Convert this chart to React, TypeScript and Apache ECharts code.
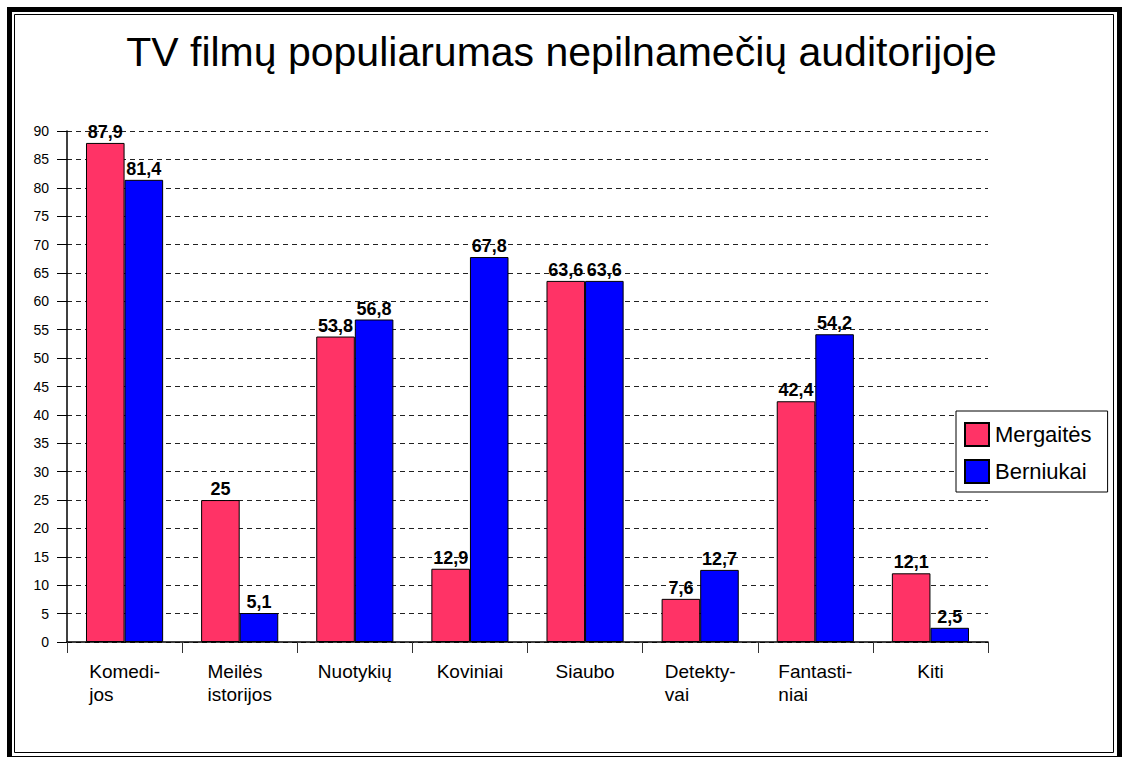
import React, { useEffect, useRef } from "react";
import * as echarts from "echarts";

const categories = [
  "Komedi-\njos",
  "Meilės\nistorijos",
  "Nuotykių",
  "Koviniai",
  "Siaubo",
  "Detekty-\nvai",
  "Fantasti-\nniai",
  "Kiti",
];
const girls = [87.9, 25, 53.8, 12.9, 63.6, 7.6, 42.4, 12.1];
const boys = [81.4, 5.1, 56.8, 67.8, 63.6, 12.7, 54.2, 2.5];
const seriesNames = ["Mergaitės", "Berniukai"];
const titleText = "TV filmų populiarumas nepilnamečių auditorijoje";

const FONT = '"Liberation Sans", Arial, sans-serif';

export default function App() {
  const ref = useRef<HTMLDivElement>(null);
  useEffect(() => {
    if (!ref.current) return;
    const chart = echarts.init(ref.current, null, { renderer: "svg" });
    const fmt = (p: any) => String(p.value).replace(".", ",");
    const barLabel = {
      show: true,
      position: "top",
      distance: 2,
      fontFamily: FONT,
      fontWeight: "bold",
      fontSize: 18,
      color: "#000",
      formatter: fmt,
    };
    chart.setOption({
      animation: false,
      backgroundColor: "#fff",
      title: {
        text: titleText,
        left: "center",
        top: 26,
        textStyle: { fontFamily: FONT, fontSize: 41, fontWeight: "normal", color: "#000" },
      },
      legend: {
        orient: "vertical",
        left: 956,
        top: 411,
        padding: [11, 16, 8, 8],
        itemWidth: 24,
        itemHeight: 23,
        itemGap: 12,
        icon: "rect",
        borderColor: "#000",
        borderWidth: 1,
        backgroundColor: "#fff",
        textStyle: { fontFamily: FONT, fontSize: 22, color: "#000", padding: [0, 0, 0, 1] },
        data: seriesNames,
      },
      grid: { left: 67, right: 135, top: 131, bottom: 115, containLabel: false },
      xAxis: {
        type: "category",
        data: categories,
        axisLine: { lineStyle: { color: "#000", width: 1.5 } },
        axisTick: { show: true, length: 11, lineStyle: { color: "#333" } },
        axisLabel: {
          interval: 0,
          margin: 18,
          fontFamily: FONT,
          fontSize: 19,
          lineHeight: 23,
          color: "#000",
          formatter: (v: string) =>
            v
              .split("\n")
              .map((s) => `{l|${s}}`)
              .join("\n"),
          rich: { l: { align: "left", fontFamily: FONT, fontSize: 19, lineHeight: 23, color: "#000" } },
        },
      },
      yAxis: {
        type: "value",
        min: 0,
        max: 90,
        interval: 5,
        axisLine: { show: true, lineStyle: { color: "#000", width: 1.5 } },
        axisTick: { show: true, inside: false, length: 10, lineStyle: { color: "#000" } },
        axisLabel: { margin: 18, fontFamily: FONT, fontSize: 14, color: "#000" },
        splitLine: { show: true, lineStyle: { color: "#222", type: [5, 4], width: 1 } },
      },
      series: [
        {
          name: seriesNames[0],
          type: "bar",
          data: girls,
          barGap: "0%",
          barCategoryGap: "33%",
          itemStyle: { color: "#FF3366", borderColor: "#000", borderWidth: 1 },
          label: barLabel,
        },
        {
          name: seriesNames[1],
          type: "bar",
          data: boys,
          barGap: "0%",
          barCategoryGap: "33%",
          itemStyle: { color: "#0000FF", borderColor: "#000", borderWidth: 1 },
          label: barLabel,
        },
      ],
      graphic: [
        {
          type: "rect",
          shape: { x: 9.5, y: 9.5, width: 1110, height: 749 },
          style: { fill: "none", stroke: "#000", lineWidth: 5 },
          silent: true,
        },
        {
          type: "rect",
          shape: { x: 14.5, y: 14.5, width: 1099, height: 738 },
          style: { fill: "none", stroke: "#000", lineWidth: 1 },
          silent: true,
        },
      ],
    });
    return () => chart.dispose();
  }, []);
  return (
    <div
      ref={ref}
      style={{ position: "fixed", left: 0, top: 0, width: 1123, height: 757, background: "#fff" }}
    />
  );
}
